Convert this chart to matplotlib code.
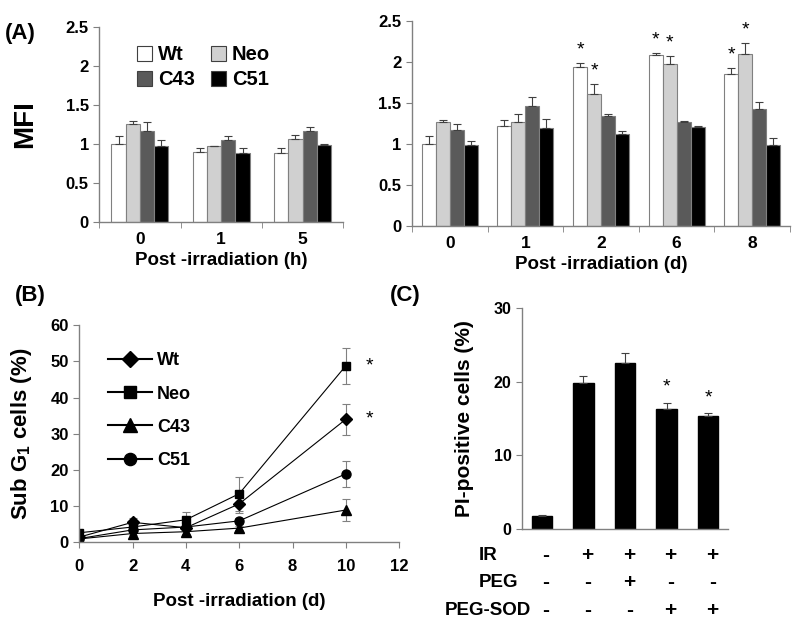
import matplotlib
matplotlib.use('Agg')
import matplotlib.pyplot as plt
import matplotlib.transforms as mtransforms
from matplotlib.patches import Patch
from matplotlib.lines import Line2D
import numpy as np

plt.rcParams['font.family'] = ['Liberation Sans', 'DejaVu Sans']
plt.rcParams['font.weight'] = 'bold'
plt.rcParams['axes.labelweight'] = 'bold'
plt.rcParams['mathtext.fontset'] = 'custom'
plt.rcParams['mathtext.rm'] = 'Liberation Sans:bold'
plt.rcParams['mathtext.bf'] = 'Liberation Sans:bold'

# ---- data ----
series = ['Wt', 'Neo', 'C43', 'C51']
bar_colors = ['white', '#d0d0d0', '#5a5a5a', 'black']

hours = ['0', '1', '5']
mfi_h = [[1.00, 0.90, 0.89],
         [1.26, 0.97, 1.06],
         [1.17, 1.05, 1.17],
         [0.98, 0.88, 0.99]]
mfi_h_err = [[0.10, 0.05, 0.06],
             [0.03, 0.005, 0.06],
             [0.11, 0.05, 0.05],
             [0.07, 0.07, 0.005]]

days = ['0', '1', '2', '6', '8']
mfi_d = [[1.00, 1.22, 1.94, 2.08, 1.85],
         [1.26, 1.26, 1.61, 1.97, 2.09],
         [1.17, 1.46, 1.34, 1.27, 1.43],
         [0.98, 1.19, 1.12, 1.21, 0.98]]
mfi_d_err = [[0.10, 0.07, 0.05, 0.03, 0.08],
             [0.03, 0.10, 0.12, 0.10, 0.14],
             [0.07, 0.11, 0.02, 0.005, 0.08],
             [0.06, 0.11, 0.03, 0.005, 0.09]]
mfi_d_stars = [(0, 2), (1, 2), (0, 3), (1, 3), (0, 4), (1, 4)]  # (series, day)

subg1_days = [0, 2, 4, 6, 10]
subg1_wt = [1.4, 5.5, 4.0, 10.6, 34.0]
subg1_wt_err = [0.3, 1.1, 0.5, 2.6, 4.3]
subg1_neo = [2.6, 4.2, 6.2, 13.4, 48.8]
subg1_neo_err = [0.3, 0.8, 2.1, 4.7, 5.0]
subg1_c43 = [0.9, 2.4, 2.9, 3.9, 8.9]
subg1_c43_err = [0.2, 0.5, 0.5, 0.6, 3.1]
subg1_c51 = [1.0, 3.4, 4.2, 5.9, 18.9]
subg1_c51_err = [0.2, 0.5, 0.6, 0.8, 3.6]
subg1_stars = ['Neo', 'Wt']

pi_vals = [1.8, 19.8, 22.5, 16.3, 15.3]
pi_err = [0.05, 1.0, 1.4, 0.8, 0.4]
pi_stars = [3, 4]
pi_rows = ['IR', 'PEG', 'PEG-SOD']
pi_ir = ['-', '+', '+', '+', '+']
pi_peg = ['-', '-', '+', '-', '-']
pi_pegsod = ['-', '-', '-', '+', '+']

GREY = '#808080'


def style_axes(ax):
    for s in ['top', 'right']:
        ax.spines[s].set_visible(False)
    for s in ['left', 'bottom']:
        ax.spines[s].set_color(GREY)
        ax.spines[s].set_linewidth(1)
    ax.tick_params(colors=GREY, labelcolor='black', direction='out', length=4)


def grouped_bars(ax, cats, vals, errs, width):
    x = np.arange(len(cats))
    for i, (v, e) in enumerate(zip(vals, errs)):
        pos = x + (i - 1.5) * width
        ax.bar(pos, v, width, color=bar_colors[i], edgecolor=GREY, linewidth=0.8,
               label=series[i], zorder=2)
        ax.errorbar(pos, v, yerr=[np.zeros(len(v)), e], fmt='none', ecolor='#404040',
                    elinewidth=0.8, capsize=3, capthick=0.8, zorder=3)
    ax.set_xlim(-0.5, len(cats) - 0.5)
    ax.set_ylim(0, 2.5)
    ax.set_xticks(x)
    ax.set_xticklabels(cats, fontsize=12.5)
    ax.set_xticks(np.arange(len(cats) + 1) - 0.5, minor=True)
    ax.tick_params(axis='x', which='major', length=0, pad=7)
    ax.tick_params(axis='x', which='minor', length=4, color=GREY)
    ax.set_yticks([0, 0.5, 1, 1.5, 2, 2.5])
    ax.set_yticklabels(['0', '0.5', '1', '1.5', '2', '2.5'], fontsize=12)
    return x


fig = plt.figure(figsize=(8, 6.29), dpi=100)

# ---- (A) left ----
axA1 = fig.add_axes([0.124, 0.647, 0.305, 0.310])
style_axes(axA1)
grouped_bars(axA1, hours, mfi_h, mfi_h_err, 0.175)
axA1.set_ylabel('MFI', fontsize=20, labelpad=20)
axA1.set_xlabel('Post -irradiation (h)', fontsize=13.5, labelpad=4)
handles = [Patch(facecolor=c, edgecolor='#404040', linewidth=0.8) for c in bar_colors]
order = [0, 2, 1, 3]  # row-wise: Wt Neo / C43 C51
axA1.legend([handles[i] for i in order], [series[i] for i in order], ncol=2,
            loc='upper left', bbox_to_anchor=(0.08, 1.0), frameon=False, fontsize=14.5,
            handlelength=0.75, handleheight=0.75, handletextpad=0.3,
            columnspacing=0.8, labelspacing=0.3)

# ---- (A) right ----
axA2 = fig.add_axes([0.515, 0.641, 0.4725, 0.326])
style_axes(axA2)
w2 = 0.185
xd = grouped_bars(axA2, days, mfi_d, mfi_d_err, w2)
axA2.set_xlabel('Post -irradiation (d)', fontsize=13.5, labelpad=4)
for si, di in mfi_d_stars:
    top = mfi_d[si][di] + mfi_d_err[si][di]
    axA2.text(xd[di] + (si - 1.5) * w2, top + 0.05, '*', ha='center', va='bottom',
              fontsize=14, fontweight='normal')

# ---- (B) ----
axB = fig.add_axes([0.099, 0.138, 0.40, 0.345])
style_axes(axB)
b_series = [('Wt', subg1_wt, subg1_wt_err, 'D', 6),
            ('Neo', subg1_neo, subg1_neo_err, 's', 6),
            ('C43', subg1_c43, subg1_c43_err, '^', 7),
            ('C51', subg1_c51, subg1_c51_err, 'o', 6.5)]
b_handles = []
for name, vals, errs, mk, ms in b_series:
    axB.errorbar(subg1_days, vals, yerr=errs, color='black', ecolor=GREY, lw=0.8,
                 elinewidth=0.8, capsize=3, capthick=0.8, marker=mk, markersize=ms)
    b_handles.append(Line2D([], [], color='black', lw=1.5, marker=mk, markersize=ms * 1.35))
    if name in subg1_stars:
        axB.text(subg1_days[-1] + 0.9, vals[-1], '*', ha='center', va='center',
                 fontsize=14, fontweight='normal')
axB.set_xlim(0, 12)
axB.set_ylim(0, 60)
axB.set_xticks(range(0, 13, 2))
axB.set_yticks(range(0, 61, 10))
axB.tick_params(labelsize=12)
axB.tick_params(axis='x', pad=8)
axB.set_xlabel('Post -irradiation (d)', fontsize=13.5, labelpad=14)
axB.set_ylabel('Sub G$_\\mathrm{1}$ cells (%)', fontsize=16, labelpad=12)
axB.legend(b_handles, [b[0] for b in b_series], loc='upper left',
           bbox_to_anchor=(0.04, 0.95), frameon=False, fontsize=13,
           handlelength=2.4, labelspacing=0.9, handletextpad=0.3)

# ---- (C) ----
axC = fig.add_axes([0.6525, 0.159, 0.2575, 0.351])
style_axes(axC)
xc = np.arange(len(pi_vals))
axC.bar(xc, pi_vals, 0.5, color='black', edgecolor='black', zorder=2)
axC.errorbar(xc, pi_vals, yerr=[np.zeros(len(pi_vals)), pi_err], fmt='none',
             ecolor='#404040', elinewidth=0.8, capsize=3, capthick=0.8, zorder=3)
for i in pi_stars:
    axC.text(xc[i], pi_vals[i] + pi_err[i] + 1.0, '*', ha='center', va='bottom',
             fontsize=14, fontweight='normal')
axC.set_xlim(-0.48, 4.48)
axC.set_ylim(0, 30)
axC.set_yticks([0, 10, 20, 30])
axC.tick_params(axis='y', labelsize=11.5)
axC.set_xticks([])
axC.set_ylabel('PI-positive cells (%)', fontsize=15, labelpad=14)

trans = mtransforms.blended_transform_factory(axC.transData, axC.transAxes)
row_y = [-0.118, -0.244, -0.367]
row_label_x = [-0.21, -0.21, -0.375]
for r, (label, signs) in enumerate(zip(pi_rows, [pi_ir, pi_peg, pi_pegsod])):
    axC.text(row_label_x[r], row_y[r], label, transform=axC.transAxes, ha='left',
             va='center', fontsize=13.5)
    for i, s in enumerate(signs):
        axC.text(xc[i] + 0.1, row_y[r], s, transform=trans, ha='center', va='center',
                 fontsize=15)

# panel letters
fig.text(0.006, 0.947, '(A)', fontsize=16, va='center')
fig.text(0.018, 0.530, '(B)', fontsize=16, va='center')
fig.text(0.487, 0.530, '(C)', fontsize=16, va='center')

fig.savefig('out.png', dpi=100)
